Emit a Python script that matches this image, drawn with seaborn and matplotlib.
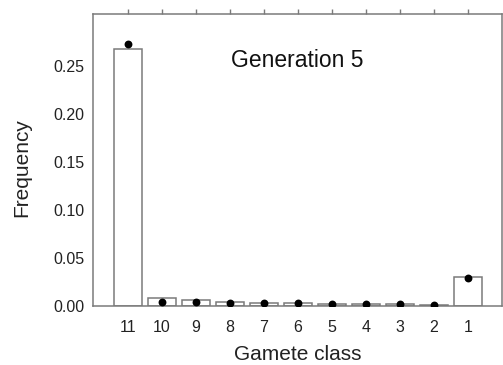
import matplotlib
matplotlib.use("Agg")
import matplotlib.pyplot as plt
import seaborn as sns
import pandas as pd

gamete_class = ['11', '10', '9', '8', '7', '6', '5', '4', '3', '2', '1']
bar_freq = [0.268, 0.0083, 0.006, 0.0045, 0.0035, 0.0028, 0.0022, 0.002, 0.0018, 0.0015, 0.0305]
dot_freq = [0.273, 0.004, 0.0045, 0.0035, 0.003, 0.0028, 0.002, 0.002, 0.0018, 0.0015, 0.0295]
y_ticks = [0.00, 0.05, 0.10, 0.15, 0.20, 0.25]

df = pd.DataFrame({'cls': gamete_class, 'bar': bar_freq, 'dot': dot_freq})

sns.set_style("white")
plt.rcParams['font.family'] = ['Liberation Sans', 'DejaVu Sans']

fig = plt.figure(figsize=(5.03, 3.65), dpi=100)
ax = fig.add_axes([93/503, 59/365, 409/503, 292/365])

spine_col = '#7a7a7a'
sns.barplot(data=df, x='cls', y='bar', order=gamete_class, color='white',
            edgecolor=spine_col, linewidth=1.1, width=0.85, ax=ax, zorder=2)
sns.scatterplot(data=df, x='cls', y='dot', color='black', s=32, edgecolor='black',
                linewidth=0, ax=ax, zorder=3)

ax.set_xlim(-1.03, 11.0)
ax.set_ylim(0, 0.304)
ax.set_yticks(y_ticks)
ax.set_yticklabels([f"{v:.2f}" for v in y_ticks])

for s in ax.spines.values():
    s.set_color(spine_col)
    s.set_linewidth(1.1)
    s.set_visible(True)

ax.tick_params(axis='y', direction='out', length=4, width=1.0, color=spine_col,
               labelsize=11.5, labelcolor='#222222', pad=2)
ax.tick_params(axis='x', direction='out', length=3.5, width=1.0, color=spine_col,
               labelsize=11.5, labelcolor='#222222', pad=6.5, top=True)

ax.set_xlabel('Gamete class', fontsize=15, color='#222222', labelpad=7)
ax.set_ylabel('Frequency', fontsize=15, color='#222222')
ax.yaxis.set_label_coords(-0.15, 0.473)

ax.text(0.5, 0.84, 'Generation 5', transform=ax.transAxes, ha='center', va='center',
        fontsize=16.5, color='#111111')

fig.savefig('out.png', dpi=100)
